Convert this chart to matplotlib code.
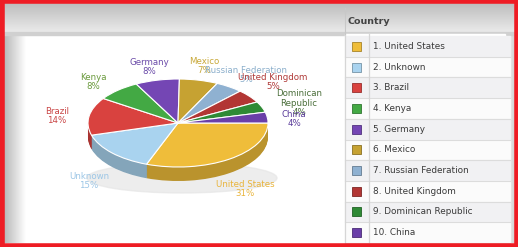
import numpy as np
import matplotlib
matplotlib.use("Agg")
import matplotlib.pyplot as plt
from matplotlib.patches import Rectangle, Ellipse
import matplotlib.colors as mcolors

# ---------------- data ----------------
countries = ["United States", "Unknown", "Brazil", "Kenya", "Germany", "Mexico",
             "Russian Federation", "United Kingdom", "Dominican Republic", "China"]
label_names = ["United States", "Unknown", "Brazil", "Kenya", "Germany", "Mexico",
               "Russian Federation", "United Kingdom", "Dominican\nRepublic", "China"]
shares = [31, 15, 14, 8, 8, 7, 5, 5, 4, 4]
colors = ["#efbd3a", "#a9d3ef", "#d9423f", "#43a944", "#7446b4", "#c6a232",
          "#8fb1d1", "#b23634", "#2f8a35", "#6a3fa8"]
label_colors = ["#e9b43a", "#9cc6e6", "#c94545", "#6a9a3c", "#6a4aa8", "#c8a838",
                "#8aaecb", "#b03a38", "#4a6e3a", "#5a3c9a"]
# label anchor positions in pixels (x, y from top)
label_xy = [(245, 189), (89, 181), (57, 116), (93, 82), (149, 67), (204, 66),
            (246, 75), (273, 82), (299, 103), (294, 119)]

W, H = 518, 247
fig = plt.figure(figsize=(W / 100, H / 100), dpi=100)

# ---------------- background ----------------
bg = fig.add_axes([0, 0, 1, 1], zorder=0)
bg.set_xlim(0, W)
bg.set_ylim(H, 0)
bg.axis("off")
bg.add_patch(Rectangle((0, 0), W, H, color="white", zorder=0))

# header gradient
grad = np.linspace(0.74, 0.93, 64).reshape(-1, 1)
bg.imshow(np.dstack([grad, grad, grad]), extent=(4, W, 34, 3), aspect="auto", zorder=1)
bg.add_patch(Rectangle((4, 32), W, 3, color="#d0d0d0", zorder=2))
# left shadow
lg = np.linspace(0.72, 1.0, 64).reshape(1, -1)
bg.imshow(np.dstack([lg, lg, lg, 1 - lg + 0.0]) if False else np.dstack([lg, lg, lg]),
          extent=(4, 26, H - 4, 34), aspect="auto", zorder=1)
# right shadow
rg = np.linspace(1.0, 0.8, 64).reshape(1, -1)
bg.imshow(np.dstack([rg, rg, rg]), extent=(500, W, H - 4, 34), aspect="auto", zorder=1)

# pie shadow
bg.add_patch(Ellipse((182, 178), 190, 30, color="#e6e6e6", alpha=0.7, zorder=1))

# ---------------- table ----------------
row_top, row_h = 36, 20.7
bg.add_patch(Rectangle((345, 34), 160, H, color="white", zorder=2))
for i, (name, c) in enumerate(zip(countries, colors)):
    y0 = row_top + i * row_h
    fc = "#f1f1f3" if i % 2 == 0 else "#fbfbfb"
    bg.add_patch(Rectangle((345, y0), 165, row_h, color=fc, zorder=2))
    bg.plot([345, 510], [y0 + row_h, y0 + row_h], color="#dcdcdc", lw=0.8, zorder=3)
    yc = y0 + row_h / 2
    bg.add_patch(Rectangle((352, yc - 4.5), 9, 9, facecolor=c,
                           edgecolor=mcolors.to_hex(np.array(mcolors.to_rgb(c)) * 0.7),
                           lw=0.6, zorder=4))
    bg.text(373, yc, f"{i + 1}. {name}", fontsize=6.4, color="#3a3a3a",
            va="center", ha="left", family="DejaVu Sans", zorder=5)
bg.plot([345, 345], [34, H], color="#d6d6d6", lw=0.9, zorder=3)
bg.plot([369, 369], [34, H], color="#d6d6d6", lw=0.9, zorder=3)
bg.text(348, 21, "Country", fontsize=6.8, color="#444444", fontweight="bold",
        va="center", ha="left", family="DejaVu Sans", zorder=5)
bg.plot([345, 345], [8, 34], color="#c8c8c8", lw=0.8, zorder=3)

# red frame
bg.add_patch(Rectangle((1.5, 1.5), W - 3, H - 3, fill=False, edgecolor="#ee1c24",
                       lw=4, zorder=10))

# ---------------- 3D pie ----------------
cx, cy, rx, ry = 178, 123, 90, 44
xl, yl_lo, yl_hi = 1.5, -1.6, 1.4
ax = fig.add_axes([(cx - xl * rx) / W, ((H - cy) + yl_lo * ry) / H,
                   2 * xl * rx / W, (yl_hi - yl_lo) * ry / H], zorder=2)
ax.patch.set_alpha(0)
depth = 14 / ry
side_colors = [tuple(np.array(mcolors.to_rgb(c)) * 0.78) for c in colors]
for k in np.linspace(depth, 0, 18)[:-1]:
    ax.pie(shares, colors=side_colors, startangle=0, counterclock=False,
           center=(0, -k), radius=1, wedgeprops=dict(linewidth=0))
ax.pie(shares, colors=colors, startangle=0, counterclock=False, radius=1,
       wedgeprops=dict(edgecolor="white", linewidth=0.8))
ax.set_aspect("auto")
ax.set_xlim(-xl, xl)
ax.set_ylim(yl_lo, yl_hi)
ax.axis("off")

# ---------------- labels ----------------
top = fig.add_axes([0, 0, 1, 1], zorder=4)
top.set_xlim(0, W)
top.set_ylim(H, 0)
top.axis("off")
for name, v, (x, y), c in zip(label_names, shares, label_xy, label_colors):
    top.text(x, y, f"{name}\n{v}%", fontsize=6.2, color=c, ha="center", va="center",
             linespacing=1.05, family="DejaVu Sans")

fig.savefig("out.png", dpi=100)
